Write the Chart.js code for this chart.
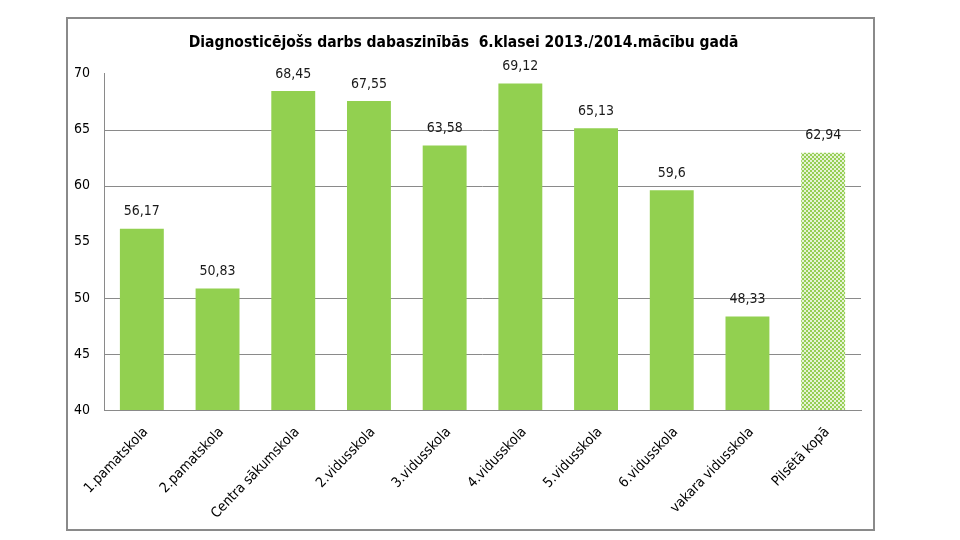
<!DOCTYPE html>
<html>
<head>
<meta charset="utf-8">
<script src="https://cdn.jsdelivr.net/npm/chart.js@4.4.1/dist/chart.umd.min.js"></script>
<style>
  html, body { margin: 0; padding: 0; background: #fff; }
  #wrap { position: relative; width: 960px; height: 540px; }
  #frame { position: absolute; left: 66px; top: 17px; width: 805px; height: 510px; border: 2px solid #8a8a8a; pointer-events: none; }
  canvas { position: absolute; left: 0; top: 0; }
</style>
</head>
<body>
<div id="wrap">
  <canvas id="c" width="960" height="540"></canvas>
  <div id="frame"></div>
</div>
<script>
const chartTitle = 'Diagnosticējošs darbs dabaszinībās  6.klasei 2013./2014.mācību gadā';
const categories = ['1.pamatskola', '2.pamatskola', 'Centra sākumskola', '2.vidusskola', '3.vidusskola', '4.vidusskola', '5.vidusskola', '6.vidusskola', 'vakara vidusskola', 'Pilsētā kopā'];
const scores = [56.17, 50.83, 68.45, 67.55, 63.58, 69.12, 65.13, 59.6, 48.33, 62.94];
const yTicks = [40, 45, 50, 55, 60, 65, 70];
const gridValues = [45, 50, 60, 65];

const FONT = '"Liberation Sans Narrow", "DejaVu Sans Condensed", sans-serif';

function makePattern() {
  const p = document.createElement('canvas');
  p.width = 4; p.height = 4;
  const g = p.getContext('2d');
  g.fillStyle = '#e6f3d6';
  g.fillRect(0, 0, 4, 4);
  g.fillStyle = '#96cf55';
  g.fillRect(0, 0, 2, 2);
  g.fillRect(2, 2, 2, 2);
  return g.createPattern(p, 'repeat');
}
const ctx = document.getElementById('c').getContext('2d');
const pattern = makePattern();
const barColors = categories.map((c, i) => i === categories.length - 1 ? pattern : '#92d050');

const customGrid = {
  id: 'customGrid',
  beforeDatasetsDraw(chart) {
    const c = chart.ctx;
    const y = chart.scales.y;
    const a = chart.chartArea;
    c.save();
    c.strokeStyle = '#8a8a8a';
    c.lineWidth = 1;
    gridValues.forEach(v => {
      const py = Math.round(y.getPixelForValue(v)) + 0.5;
      c.beginPath();
      c.moveTo(a.left, py);
      c.lineTo(a.right, py);
      c.stroke();
    });
    c.restore();
  }
};

const valueLabels = {
  id: 'valueLabels',
  afterDatasetsDraw(chart) {
    const c = chart.ctx;
    const meta = chart.getDatasetMeta(0);
    c.save();
    c.font = '14px ' + FONT;
    c.fillStyle = '#1a1a1a';
    c.textAlign = 'center';
    c.textBaseline = 'middle';
    meta.data.forEach((bar, i) => {
      const txt = String(scores[i]).replace('.', ',');
      c.fillText(txt, bar.x, bar.y - 17);
    });
    c.restore();
  }
};

new Chart(ctx, {
  type: 'bar',
  data: {
    labels: categories,
    datasets: [{
      data: scores,
      backgroundColor: barColors,
      borderWidth: 0,
      categoryPercentage: 1,
      barPercentage: 0.58
    }]
  },
  options: {
    responsive: false,
    animation: false,
    devicePixelRatio: 1,
    layout: { padding: { left: 66, right: 99, top: 17, bottom: 10 } },
    plugins: {
      legend: { display: false },
      tooltip: { enabled: false },
      title: {
        display: true,
        text: chartTitle,
        color: '#000',
        font: { family: FONT, size: 15.5, weight: 'bold' },
        padding: { top: 17, bottom: 21 }
      }
    },
    scales: {
      x: {
        grid: { display: false, drawTicks: false },
        border: { display: true, color: '#8a8a8a', width: 1 },
        ticks: {
          color: '#000',
          font: { family: FONT, size: 14 },
          minRotation: 46,
          maxRotation: 46,
          autoSkip: false,
          padding: 14,
          labelOffset: 4
        },
        afterFit(scale) { scale.height = 120; }
      },
      y: {
        min: 40,
        max: 70,
        afterBuildTicks(scale) { scale.ticks = yTicks.map(v => ({ value: v })); },
        ticks: {
          color: '#000',
          font: { family: FONT, size: 14 },
          padding: 14
        },
        grid: { display: false, drawTicks: false },
        border: { display: true, color: '#8a8a8a', width: 1 },
        afterFit(scale) { scale.width = 38; }
      }
    }
  },
  plugins: [customGrid, valueLabels]
});
</script>
</body>
</html>
